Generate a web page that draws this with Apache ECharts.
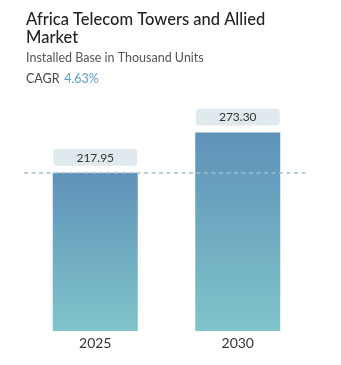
<!DOCTYPE html>
<html>
<head>
<meta charset="utf-8">
<script src="https://cdn.jsdelivr.net/npm/echarts@6/dist/echarts.min.js"></script>
<style>html,body{margin:0;padding:0;background:#fff}#c{width:341px;height:365px}</style>
</head>
<body>
<div id="c"></div>
<script>
var categories = ['2025', '2030'];
var values = [217.95, 273.30];
var titleText = 'Africa Telecom Towers and Allied\nMarket';
var subtitleText = 'Installed Base in Thousand Units';
var cagrLabel = 'CAGR';
var cagrValue = '4.63%';

var chart = echarts.init(document.getElementById('c'));
var font = 'Lato, "Noto Sans", sans-serif';
chart.setOption({
  animation: false,
  textStyle: { fontFamily: font },
  title: [
    { text: titleText, left: 26, top: 10, padding: 0, textStyle: { fontFamily: font, fontSize: 16.5, fontWeight: 500, color: '#222', lineHeight: 18.5 } },
    { text: subtitleText, left: 26, top: 51, padding: 0, textStyle: { fontFamily: font, fontSize: 12.5, fontWeight: 'normal', color: '#555' } },
    { text: '{a|' + cagrLabel + '} {b|' + cagrValue + '}', left: 26, top: 70, padding: 0, textStyle: { fontWeight: 'normal', rich: {
      a: { fontFamily: font, fontSize: 12.5, fontWeight: 'normal', color: '#444' },
      b: { fontFamily: font, fontSize: 12.5, fontWeight: 'normal', color: '#5b9bc4' } } } }
  ],
  grid: { left: 24, right: 32, top: 100, bottom: 34, containLabel: false },
  xAxis: {
    type: 'category', data: categories,
    axisLine: { show: false }, axisTick: { show: false },
    axisLabel: { fontSize: 14, color: '#333', margin: 5, fontFamily: font }
  },
  yAxis: { type: 'value', min: 0, max: 318, show: false, splitLine: { show: false } },
  series: [
    {
      type: 'bar', data: values, barWidth: 85,
      itemStyle: { color: new echarts.graphic.LinearGradient(0, 0, 0, 1, [
        { offset: 0, color: '#5e92b8' }, { offset: 1, color: '#80c4ca' }]) },
      label: {
        show: true, position: 'top', distance: 7,
        formatter: function (p) { return p.value.toFixed(2); },
        backgroundColor: '#e0eaee', borderRadius: 4, width: 74, align: 'center',
        padding: [3, 5, 2, 5], fontSize: 12, color: '#333', fontFamily: font
      },
      markLine: {
        silent: true, symbol: 'none', label: { show: false },
        lineStyle: { type: [4, 3.5], color: '#a3bfcf', width: 1.5 },
        data: [{ yAxis: values[0] }]
      },
      z: 2
    },
    {
      type: 'scatter', data: values, symbol: 'triangle', symbolRotate: 180,
      symbolSize: [8, 5], symbolOffset: [0, -8],
      itemStyle: { color: '#e0eaee' }, silent: true, z: 3
    }
  ]
});
</script>
</body>
</html>
